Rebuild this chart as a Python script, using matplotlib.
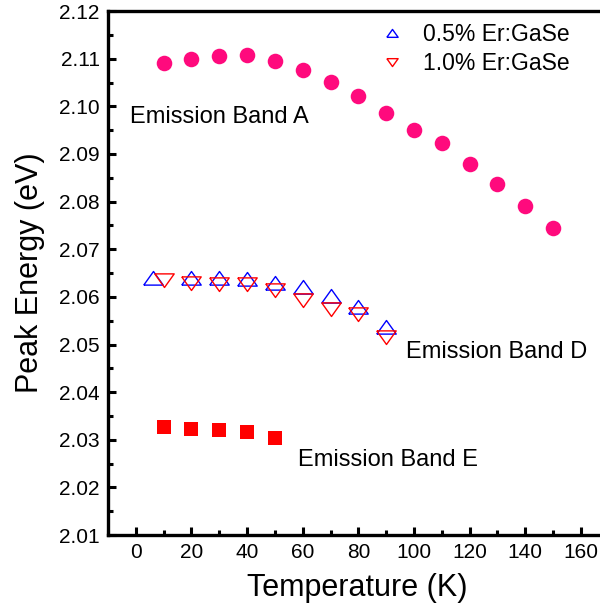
import matplotlib
matplotlib.use("Agg")
import matplotlib.pyplot as plt
from matplotlib.ticker import MultipleLocator, FormatStrFormatter

plt.rcParams['font.family'] = ['Liberation Sans', 'DejaVu Sans']

# Emission Band A
temp_a = [10, 20, 30, 40, 50, 60, 70, 80, 90, 100, 110, 120, 130, 140, 150]
energy_a = [2.1092, 2.1100, 2.1105, 2.1107, 2.1096, 2.1076, 2.1052, 2.1022,
            2.0987, 2.0950, 2.0924, 2.0879, 2.0836, 2.0791, 2.0744]

# Emission Band D, 0.5% Er:GaSe
temp_d05 = [6, 20, 30, 40, 50, 60, 70, 80, 90]
energy_d05 = [2.0640, 2.0640, 2.0640, 2.0637, 2.0630, 2.0620, 2.0602, 2.0579, 2.0536]

# Emission Band D, 1.0% Er:GaSe
temp_d10 = [10, 20, 30, 40, 50, 60, 70, 80, 90]
energy_d10 = [2.0636, 2.0630, 2.0627, 2.0627, 2.0615, 2.0594, 2.0574, 2.0565, 2.0515]

# Emission Band E
temp_e = [10, 20, 30, 40, 50]
energy_e = [2.0327, 2.0323, 2.0320, 2.0316, 2.0303]

labels = ["0.5% Er:GaSe", "1.0% Er:GaSe"]
band_texts = ["Emission Band A", "Emission Band D", "Emission Band E"]

fig = plt.figure(figsize=(6.0, 6.15), dpi=100)
ax = fig.add_axes([0.18, 0.130, 0.83, 0.852])

up_tri = [(-1.0, -0.68), (1.0, -0.68), (0.0, 0.72), (-1.0, -0.68)]
down_tri = [(-1.0, 0.68), (1.0, 0.68), (0.0, -0.72), (-1.0, 0.68)]

ax.plot(temp_a, energy_a, linestyle='none', marker='o', markersize=11.2,
        color='#FF0A7D', markeredgewidth=0)
ax.plot(temp_d05, energy_d05, linestyle='none', marker=up_tri, markersize=14,
        markerfacecolor='none', markeredgecolor='#0000FF', markeredgewidth=1.0,
        label=labels[0])
ax.plot(temp_d10, energy_d10, linestyle='none', marker=down_tri, markersize=14,
        markerfacecolor='none', markeredgecolor='#FF0000', markeredgewidth=1.0,
        label=labels[1])
ax.plot(temp_e, energy_e, linestyle='none', marker='s', markersize=9.5,
        color='#FF0000', markeredgewidth=0)

ax.text(-2.2, 2.0964, band_texts[0], fontsize=17, va='baseline', ha='left')
ax.text(97.1, 2.0471, band_texts[1], fontsize=17, va='baseline', ha='left')
ax.text(58.2, 2.0245, band_texts[2], fontsize=17, va='baseline', ha='left')

ax.set_xlim(-10, 169)
ax.set_ylim(2.01, 2.12)
ax.xaxis.set_major_locator(MultipleLocator(20))
ax.xaxis.set_minor_locator(MultipleLocator(10))
ax.yaxis.set_major_locator(MultipleLocator(0.01))
ax.yaxis.set_minor_locator(MultipleLocator(0.005))
ax.yaxis.set_major_formatter(FormatStrFormatter('%.2f'))

for s in ['left', 'bottom', 'top']:
    ax.spines[s].set_linewidth(2.4)
ax.spines['right'].set_visible(False)
ax.tick_params(which='major', direction='in', length=6, width=2.2, labelsize=15, pad=6)
ax.tick_params(which='minor', direction='in', length=3.5, width=2.2)
ax.tick_params(top=False, right=False, which='both')

ax.set_xlabel("Temperature (K)", fontsize=22, labelpad=8)
ax.set_ylabel("Peak Energy (eV)", fontsize=22, labelpad=10)

leg = ax.legend(loc='upper left', bbox_to_anchor=(0.634, 0.962),
                bbox_transform=fig.transFigure, frameon=False,
                fontsize=16.5, markerscale=0.58, handlelength=1.0,
                handletextpad=0.85, labelspacing=0.25,
                borderpad=0, borderaxespad=0)

fig.savefig("out.png", dpi=100)
